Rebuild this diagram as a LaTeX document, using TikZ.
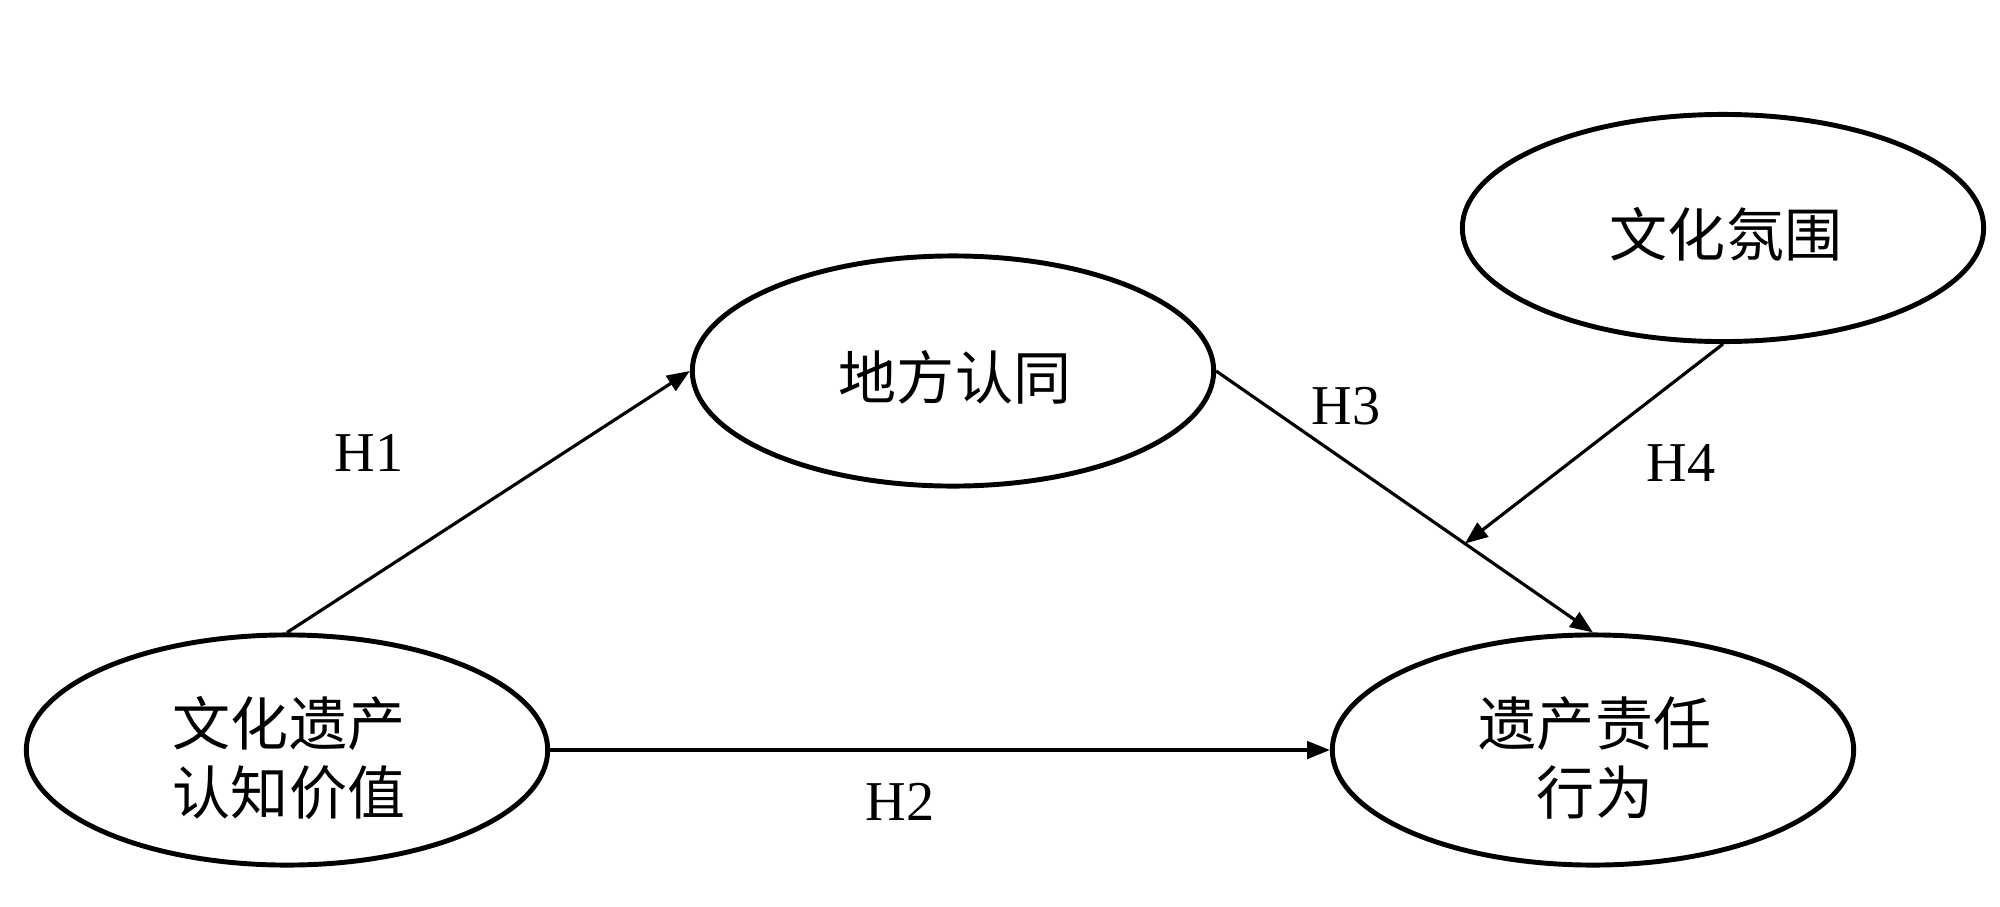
\documentclass[tikz,border=0pt]{standalone}
\usepackage{fontspec}
\setmainfont{Liberation Serif}
\newfontfamily\cjk{Noto Sans CJK SC}
\usetikzlibrary{shapes.geometric,arrows.meta}
\begin{document}
\begin{tikzpicture}[x=0.01cm,y=-0.01cm,
  construct/.style={ellipse,draw,line width=1.4pt,minimum width=5.21cm,minimum height=2.3cm,inner sep=0pt,align=center,font=\cjk\fontsize{16.5}{19.5}\selectfont},
  ctext/.style={inner sep=0pt,align=center,font=\cjk\fontsize{16.5}{19.5}\selectfont},
  link/.style={line width=0.9pt,-{Triangle[length=6.5pt,width=5pt]}},
  hlabel/.style={font=\fontsize{16}{18}\selectfont,inner sep=0pt}]
\useasboundingbox (0,0) rectangle (2000,906);
\node[construct] (cv) at (287,750) {};
\node[construct] (pi) at (953,371) {};
\node[construct,minimum height=2.27cm] (ca) at (1723,228) {};
\node[construct] (hb) at (1593,750) {};
\node[ctext] (cvt) at (289,758) {文化遗产\\认知价值};
\node[ctext] (pit) at (955,377) {地方认同};
\node[ctext] (cat) at (1726,234) {文化氛围};
\node[ctext] (hbt) at (1595,758) {遗产责任\\行为};
\draw[link] (cv.north) -- (pi.west);
\draw[link] (cv.east) -- (hb.west);
\draw[link] (pi.east) -- coordinate[pos=0.66] (m) (hb.north);
\draw[link] (ca.south) -- (m);
\node[hlabel] (h1) at (369,453) {H1};
\node[hlabel] (h2) at (900,802) {H2};
\node[hlabel] (h3) at (1346,406) {H3};
\node[hlabel] (h4) at (1681,463) {H4};
\end{tikzpicture}
\end{document}
